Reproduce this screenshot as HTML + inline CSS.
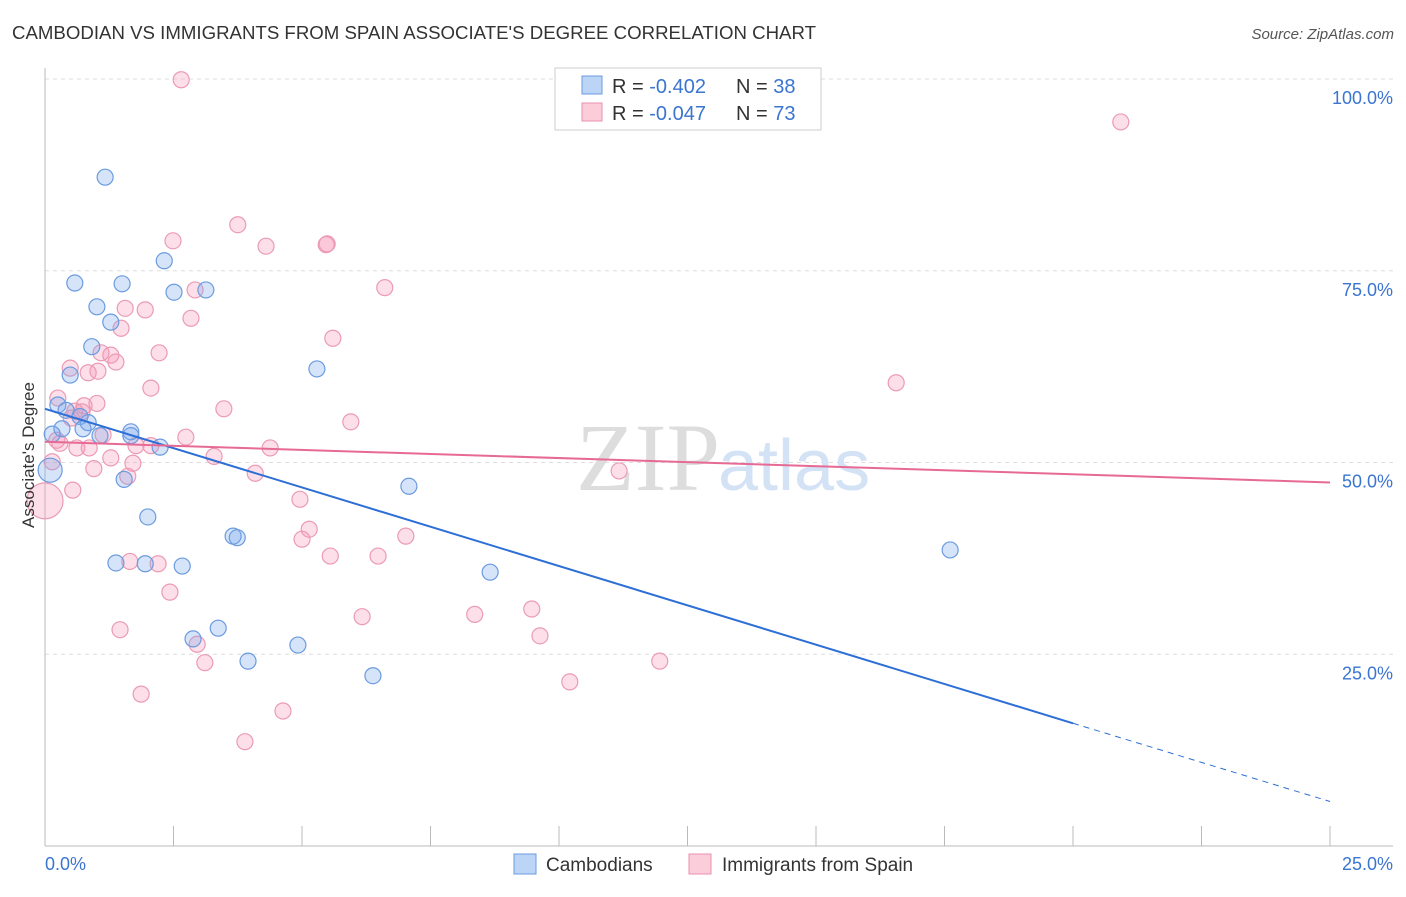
<!DOCTYPE html>
<html><head><meta charset="utf-8"><style>
body{margin:0;background:#fff;font-family:"Liberation Sans",sans-serif}
</style></head><body>
<svg width="1406" height="892" xmlns="http://www.w3.org/2000/svg">
<text x="12" y="39" font-size="18" fill="#333" textLength="804" lengthAdjust="spacingAndGlyphs">CAMBODIAN VS IMMIGRANTS FROM SPAIN ASSOCIATE'S DEGREE CORRELATION CHART</text>
<text x="1394" y="39" font-size="15" fill="#555" text-anchor="end" font-style="italic">Source: ZipAtlas.com</text>
<g id="grid"></g>
<text x="720" y="490" font-size="96" fill="#ddd" text-anchor="end" font-family="Liberation Serif">ZIP</text>
<text x="718" y="490" font-size="72" fill="#d4e2f5">atlas</text>
<g id="ticks"></g>
<g id="pts"></g>
<g id="lines"></g>
<text transform="translate(34,455) rotate(-90)" font-size="17" fill="#333" text-anchor="middle">Associate's Degree</text>
<text x="45" y="870" font-size="18" fill="#3a75d0">0.0%</text>
<text x="1393" y="870" font-size="18" fill="#3a75d0" text-anchor="end">25.0%</text>
<g>
<rect x="555" y="68" width="266" height="62" fill="#fff" stroke="#ccc"/>
<rect x="582" y="76" width="20" height="18" fill="#bcd4f5" stroke="#6b9be0"/>
<rect x="582" y="103" width="20" height="18" fill="#fbccd9" stroke="#e890ad"/>
<text x="612" y="93" font-size="20" fill="#333">R = <tspan fill="#3a75d0">-0.402</tspan></text>
<text x="736" y="93" font-size="20" fill="#333">N = <tspan fill="#3a75d0">38</tspan></text>
<text x="612" y="120" font-size="20" fill="#333">R = <tspan fill="#3a75d0">-0.047</tspan></text>
<text x="736" y="120" font-size="20" fill="#333">N = <tspan fill="#3a75d0">73</tspan></text>
</g>
<g>
<rect x="514" y="854" width="22" height="20" fill="#bcd4f5" stroke="#6b9be0"/>
<text x="546" y="871" font-size="19" fill="#333">Cambodians</text>
<rect x="689" y="854" width="22" height="20" fill="#fbccd9" stroke="#e890ad"/>
<text x="722" y="871" font-size="19" fill="#333">Immigrants from Spain</text>
</g>
</svg>
<script>
const yTicks=[25,50,75,100];
const xTicks=[0,2.5,5,7.5,10,12.5,15,17.5,20,22.5,25];
const blueX=[1.17,0.58,1.50,2.32,2.51,3.13,1.01,1.28,0.91,0.49,5.29,0.25,0.41,0.68,0.84,0.33,0.74,0.14,1.07,1.67,1.67,2.24,0.10,1.54,7.08,2.00,3.66,3.74,1.38,1.95,2.67,8.66,17.61,3.37,2.88,4.92,3.95,6.38];
const blueY=[87.2,73.4,73.3,76.3,72.2,72.5,70.3,68.3,65.1,61.4,62.2,57.5,56.8,56.0,55.2,54.4,54.4,53.7,53.5,54.0,53.5,52.0,49.0,47.8,46.9,42.9,40.4,40.2,36.9,36.8,36.5,35.7,38.6,28.4,27.0,26.2,24.1,22.2];
const pinkX=[2.65,20.93,3.75,2.49,4.3,5.47,5.49,6.61,2.92,1.95,1.56,2.84,1.48,5.6,2.22,1.09,1.28,1.38,0.49,0.84,1.03,16.56,2.06,0.25,1.01,0.76,0.58,3.48,0.72,0.51,5.95,1.13,0.23,0.29,0.62,0.86,1.77,2.06,2.74,4.38,3.29,1.28,1.71,0.14,0.95,1.61,4.09,11.17,0.54,0.0,4.96,5.14,5.0,7.02,5.55,6.48,1.65,2.2,2.43,9.47,6.17,8.36,1.46,9.63,2.96,3.11,11.96,10.21,1.87,4.63,3.89];
const pinkY=[99.9,94.4,81.0,78.9,78.2,78.4,78.5,72.8,72.5,69.9,70.1,68.8,67.5,66.2,64.3,64.3,64.0,63.1,62.3,61.7,61.9,60.4,59.7,58.4,57.7,57.4,56.7,57.0,56.6,55.8,55.3,53.6,52.9,52.5,51.9,51.9,52.2,52.2,53.3,51.9,50.8,50.6,49.9,50.1,49.2,48.2,48.6,48.9,46.4,45.0,45.2,41.3,40.0,40.4,37.8,37.8,37.1,36.8,33.1,30.9,29.9,30.2,28.2,27.4,26.3,23.9,24.1,21.4,19.8,17.6,13.6];
const pinkR=pinkX.map((v,i)=>i===49?18:8);
const blueTrend=[[0,57.0],[20,16.0],[25,5.8]];
const pinkTrend=[[0,52.7],[25,47.4]];
const X=v=>45+v/25*1285, Y=v=>846-v/100*767;
const ns="http://www.w3.org/2000/svg";
function mk(t,a,p){const e=document.createElementNS(ns,t);for(const k in a)e.setAttribute(k,a[k]);document.getElementById(p).appendChild(e);return e;}
yTicks.forEach(t=>{
 const l=mk('line',{x1:45,x2:1393,y1:Y(t),y2:Y(t),stroke:'#ddd','stroke-dasharray':'4,4'},'grid');
 
 
 const tx=mk('text',{x:1393,y:Y(t)+25,'font-size':18,fill:'#3a75d0','text-anchor':'end'},'grid');
 tx.textContent=t.toFixed(1)+'%';
 
 
});
mk('line',{x1:45,x2:45,y1:68,y2:846,stroke:'#bbb'},'ticks');
mk('line',{x1:45,x2:1393,y1:846,y2:846,stroke:'#bbb'},'ticks');
xTicks.forEach(t=>{const l=mk('line',{x1:X(t),x2:X(t),y1:826,y2:846,stroke:'#bbb'},'ticks');
 
 });
pinkX.forEach((v,i)=>{const c=mk('circle',{cx:X(v),cy:Y(pinkY[i]),r:pinkR[i],fill:'rgba(244,150,180,0.3)',stroke:'#eb9bb5','stroke-width':1.2},'pts');
 
 });
blueX.forEach((v,i)=>{const c=mk('circle',{cx:X(v),cy:Y(blueY[i]),r:i===22?12:8,fill:'rgba(120,165,235,0.3)',stroke:'#6b9be0','stroke-width':1.2},'pts');
 
 });
let l=mk('line',{x1:X(blueTrend[0][0]),y1:Y(blueTrend[0][1]),x2:X(blueTrend[1][0]),y2:Y(blueTrend[1][1]),stroke:'#2d6fd6','stroke-width':2},'lines');


l=mk('line',{x1:X(blueTrend[1][0]),y1:Y(blueTrend[1][1]),x2:X(blueTrend[2][0]),y2:Y(blueTrend[2][1]),stroke:'#2d6fd6','stroke-width':1,'stroke-dasharray':'6,5'},'lines');


l=mk('line',{x1:X(pinkTrend[0][0]),y1:Y(pinkTrend[0][1]),x2:X(pinkTrend[1][0]),y2:Y(pinkTrend[1][1]),stroke:'#e66a94','stroke-width':2},'lines');


</script>
</body></html>
